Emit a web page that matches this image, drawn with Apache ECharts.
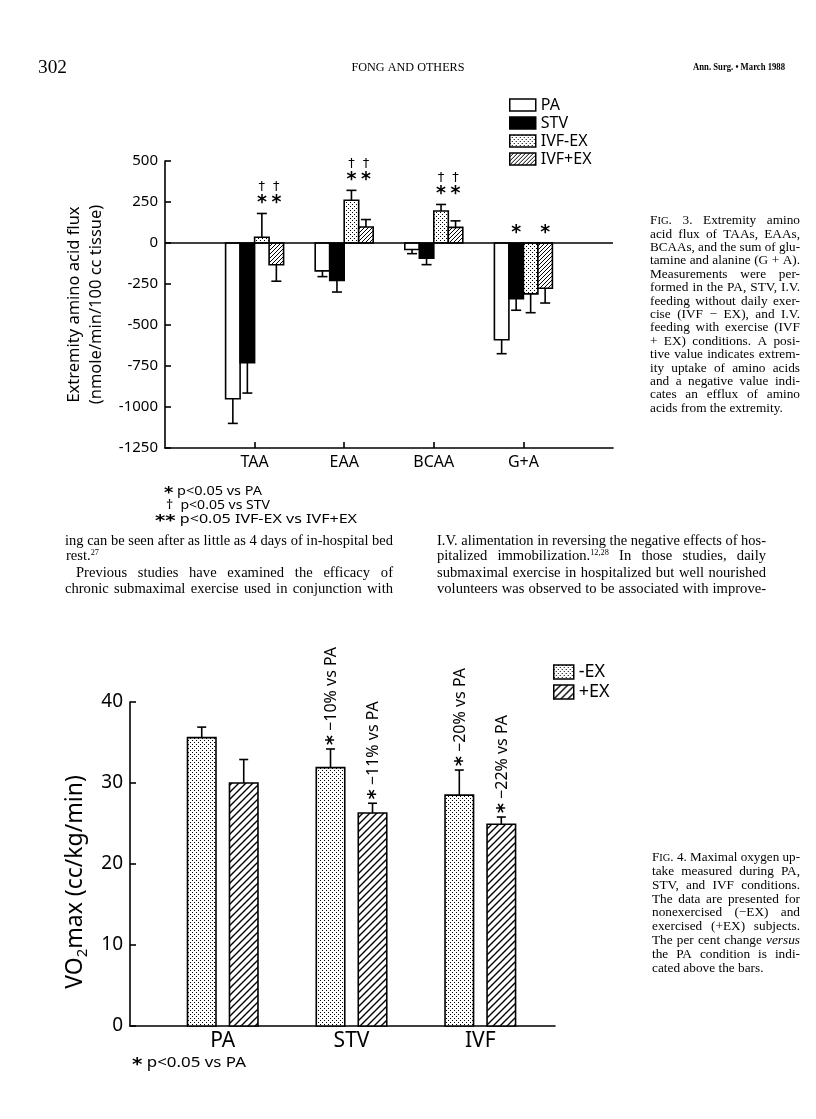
<!DOCTYPE html>
<html><head><meta charset="utf-8">
<script src="https://cdn.jsdelivr.net/npm/echarts@6/dist/echarts.min.js"></script>
<style>html,body{margin:0;padding:0;background:#fff}#c{width:816px;height:1119px}</style>
</head><body><div id="c"></div>
<script>
// ---------------- Fig. 3 data ----------------
const fig3Categories = ['TAA', 'EAA', 'BCAA', 'G+A'];
const fig3SeriesNames = ['PA', 'STV', 'IVF-EX', 'IVF+EX'];
const fig3YTicks = [-1250, -1000, -750, -500, -250, 0, 250, 500];
const fig3PA = [-950, -170, -40, -590];
const fig3PAErr = [150, 35, 25, 85];
const fig3STV = [-730, -229, -92, -340];
const fig3STVErr = [185, 70, 40, 70];
const fig3IVFminusEX = [35, 261, 195, -310];
const fig3IVFminusEXErr = [145, 60, 40, 115];
const fig3IVFplusEX = [-133, 98, 95, -276];
const fig3IVFplusEXErr = [100, 45, 40, 90];
const fig3SigPA = ['', '', '', ''];
const fig3SigSTV = ['', '', '', '*'];
const fig3SigIVFminusEX = ['†*', '†*', '†*', ''];
const fig3SigIVFplusEX = ['†*', '†*', '†*', '*'];

// ---------------- Fig. 4 data ----------------
const fig4Categories = ['PA', 'STV', 'IVF'];
const fig4SeriesNames = ['-EX', '+EX'];
const fig4YTicks = [0, 10, 20, 30, 40];
const fig4MinusEX = [35.6, 31.9, 28.5];
const fig4MinusEXErr = [1.3, 2.3, 3.1];
const fig4PlusEX = [30.0, 26.3, 24.9];
const fig4PlusEXErr = [2.9, 1.2, 0.9];
const fig4ChangeMinusEX = ['', '−10%', '−20%'];
const fig4ChangePlusEX = ['', '−11%', '−22%'];

// ---------------- helpers ----------------
const SERIF = 'Liberation Serif';
const SANS = 'Noto Sans';
function stipple() {
  const c = document.createElement('canvas'); c.width = 4; c.height = 4;
  const g = c.getContext('2d'); g.fillStyle = '#fff'; g.fillRect(0, 0, 4, 4);
  g.fillStyle = '#000'; g.fillRect(0, 0, 1, 1); g.fillRect(2, 2, 1, 1);
  return { image: c, repeat: 'repeat' };
}
function hatch(s, lw) {
  const c = document.createElement('canvas'); c.width = s; c.height = s;
  const g = c.getContext('2d'); g.fillStyle = '#fff'; g.fillRect(0, 0, s, s);
  g.strokeStyle = '#000'; g.lineWidth = lw; g.beginPath();
  g.moveTo(-1, s + 1); g.lineTo(s + 1, -1);
  g.moveTo(-1, 1); g.lineTo(1, -1);
  g.moveTo(s - 1, s + 1); g.lineTo(s + 1, s - 1);
  g.stroke();
  return { image: c, repeat: 'repeat' };
}
const mctx = document.createElement('canvas').getContext('2d');
function fontStr(st) { return (st.fontStyle || 'normal') + ' ' + (st.fontWeight || 'normal') + ' ' + st.fontSize + 'px ' + st.fontFamily; }
function parseRich(text) {
  const out = []; const re = /\{(\w+)\|([^}]*)\}/g; let last = 0, m;
  while ((m = re.exec(text))) { if (m.index > last) out.push({ t: text.slice(last, m.index) }); out.push({ t: m[2], k: m[1] }); last = re.lastIndex; }
  if (last < text.length) out.push({ t: text.slice(last) });
  return out;
}
function buildRich(base, r) {
  const rich = { n: Object.assign({ fill: '#000' }, base) };
  for (const k in (r || {})) rich[k] = Object.assign({ fill: '#000' }, base, r[k]);
  return rich;
}
function measureRich(text, rich) {
  let w = 0, out = '';
  for (const seg of parseRich(text)) {
    const st = seg.k ? rich[seg.k] : rich.n;
    mctx.font = fontStr(st); w += mctx.measureText(seg.t).width;
    out += '{' + (seg.k || 'n') + '|' + seg.t + '}';
  }
  return { w: w, out: out };
}
function T(text, x, y, base, opt) {
  opt = opt || {};
  const rich = buildRich(base, opt.rich);
  const m = measureRich(text, rich);
  const sx = opt.width ? opt.width / m.w : (opt.scale || 1);
  return { type: 'text', x: x, y: y, scaleX: sx, silent: true,
    style: Object.assign({ text: m.out, fill: '#000', align: opt.align || 'left', verticalAlign: 'middle', rich: rich }, base) };
}
function natWidth(text, base, r) {
  const rich = buildRich(base, r);
  return measureRich(text, rich).w;
}
// justified line: condensed glyphs, extra room spread over the word gaps
function J(out, text, x, y, base, width, cond, r) {
  const rich = buildRich(base, r);
  const words = text.split(' ');
  const ms = words.map(function (w) { return measureRich(w, rich); });
  mctx.font = fontStr(base);
  const sp = mctx.measureText(' ').width;
  let nat = 0; ms.forEach(function (m) { nat += m.w; });
  nat += sp * (words.length - 1);
  if (!width) { out.push(T(text, x, y, base, { scale: cond, rich: r })); return; }
  if (nat * cond >= width || words.length < 2) { out.push(T(text, x, y, base, { width: width, rich: r })); return; }
  let wordsW = 0; ms.forEach(function (m) { wordsW += m.w * cond; });
  const gap = (width - wordsW) / (words.length - 1);
  let cx = x;
  ms.forEach(function (m) {
    out.push({ type: 'text', x: cx, y: y, scaleX: cond, silent: true,
      style: Object.assign({ text: m.out, fill: '#000', align: 'left', verticalAlign: 'middle', rich: rich }, base) });
    cx += m.w * cond + gap;
  });
}
// a block of lines: [text, x, y, targetWidth or 0]; glyph condensation = median fit of the justified lines
function block(out, lines, base, r) {
  const ratios = [];
  lines.forEach(function (l) { if (l[3]) ratios.push(l[3] / natWidth(l[0], base, r)); });
  ratios.sort(function (a, b) { return a - b; });
  let cond = ratios.length ? ratios[Math.floor(ratios.length / 2)] : 1;
  cond = Math.min(1.08, Math.max(0.85, cond)) * 0.985;
  lines.forEach(function (l) { J(out, l[0], l[1], l[2], base, l[3], cond, r); });
}

// ---------------- patterns / styles ----------------
const fig3Fills = ['#fff', '#000', stipple(), hatch(4, 1)];
const fig4Fills = [stipple(), hatch(7, 1.4)];
const fig3Vals = [fig3PA, fig3STV, fig3IVFminusEX, fig3IVFplusEX];
const fig3Errs = [fig3PAErr, fig3STVErr, fig3IVFminusEXErr, fig3IVFplusEXErr];
const fig3Sigs = [fig3SigPA, fig3SigSTV, fig3SigIVFminusEX, fig3SigIVFplusEX];
const fig4Vals = [fig4MinusEX, fig4PlusEX];
const fig4Errs = [fig4MinusEXErr, fig4PlusEXErr];
const fig4Changes = [fig4ChangeMinusEX, fig4ChangePlusEX];

const BW3 = 14.5, BW4 = 28.5;

function barRenderer(offset, width, fill, capW, notes, noteFont) {
  return function (params, api) {
    const idx = api.value(0), v = api.value(1), e = api.value(2);
    const base = api.coord([idx, 0]);
    const top = api.coord([idx, v]);
    const ep = api.coord([idx, v + (v >= 0 ? e : -e)]);
    const cx = base[0] + offset;
    const children = [
      { type: 'line', shape: { x1: cx, y1: top[1], x2: cx, y2: ep[1] }, style: { stroke: '#000', lineWidth: 1.6 } },
      { type: 'line', shape: { x1: cx - capW / 2, y1: ep[1], x2: cx + capW / 2, y2: ep[1] }, style: { stroke: '#000', lineWidth: 1.6 } },
      { type: 'rect', shape: { x: cx - width / 2, y: Math.min(base[1], top[1]), width: width, height: Math.abs(base[1] - top[1]) },
        style: { fill: fill, stroke: '#000', lineWidth: 1.6 } }
    ];
    if (notes && notes[params.dataIndex]) {
      children.push({ type: 'text', x: cx + 1, y: ep[1] - 4, rotation: Math.PI / 2,
        style: { text: '{st|*}{n| ' + notes[params.dataIndex] + ' vs PA}', align: 'left', verticalAlign: 'middle', fill: '#000',
          fontFamily: SANS, fontSize: noteFont,
          rich: { n: { fontFamily: SANS, fontSize: noteFont, fill: '#000' },
                  st: { fontFamily: 'DejaVu Sans', fontWeight: 'bold', fontSize: noteFont + 3, fill: '#000', padding: [6, 0, 0, 0] } } } });
    }
    return { type: 'group', children: children };
  };
}

const series = [];
fig3SeriesNames.forEach(function (name, s) {
  const ser = {
    name: name, type: 'custom', xAxisIndex: 0, yAxisIndex: 0,
    itemStyle: { color: fig3Fills[s], borderColor: '#000', borderWidth: 1.5 },
    encode: { x: 0, y: 1 },
    data: fig3Categories.map(function (_, i) { return [i, fig3Vals[s][i], fig3Errs[s][i]]; }),
    renderItem: barRenderer((s - 1.5) * BW3, BW3, fig3Fills[s], 10)
  };
  if (s === 0) ser.markLine = { silent: true, symbol: 'none', label: { show: false }, lineStyle: { color: '#000', width: 1.6, type: 'solid' }, data: [{ yAxis: 0 }] };
  series.push(ser);
});

// significance marks (fig. 3)
const annData = [], annMeta = [];
fig3Categories.forEach(function (_, i) {
  let anchor = 0;
  for (let s = 0; s < 4; s++) { const v = fig3Vals[s][i]; if (v > 0) anchor = Math.max(anchor, v + fig3Errs[s][i]); }
  for (let s = 0; s < 4; s++) {
    if (fig3Sigs[s][i]) { annData.push([i, anchor]); annMeta.push({ off: (s - 1.5) * BW3, t: fig3Sigs[s][i] }); }
  }
});
series.push({
  name: 'sig', type: 'custom', xAxisIndex: 0, yAxisIndex: 0, silent: true, encode: { x: 0, y: 1 }, data: annData,
  renderItem: function (params, api) {
    const p = api.coord([api.value(0), api.value(1)]);
    const m = annMeta[params.dataIndex];
    const cx = p[0] + m.off;
    const ch = [];
    if (m.t.indexOf('*') >= 0) ch.push({ type: 'text', x: cx, y: p[1] - 10, style: { text: '*', align: 'center', verticalAlign: 'middle', fontFamily: 'DejaVu Sans', fontWeight: 'bold', fontSize: 19, fill: '#000' } });
    if (m.t.indexOf('†') >= 0) ch.push({ type: 'text', x: cx, y: p[1] - 27, style: { text: '†', align: 'center', verticalAlign: 'middle', fontFamily: 'DejaVu Sans', fontSize: 13, fill: '#000' } });
    return { type: 'group', children: ch };
  }
});

fig4SeriesNames.forEach(function (name, s) {
  series.push({
    name: name, type: 'custom', xAxisIndex: 1, yAxisIndex: 1,
    itemStyle: { color: fig4Fills[s], borderColor: '#000', borderWidth: 1.5 },
    encode: { x: 0, y: 1 },
    data: fig4Categories.map(function (_, i) { return [i, fig4Vals[s][i], fig4Errs[s][i]]; }),
    renderItem: barRenderer((s - 0.5) * 42, BW4, fig4Fills[s], 9, fig4Changes[s], 16)
  });
});

// ---------------- free text ----------------
const serif = function (size, extra) { return Object.assign({ fontFamily: SERIF, fontSize: size, fontWeight: 'normal', fontStyle: 'normal' }, extra || {}); };
const sans = function (size, extra) { return Object.assign({ fontFamily: SANS, fontSize: size, fontWeight: 'normal', fontStyle: 'normal' }, extra || {}); };
const texts = [];
texts.push(T('302', 38, 68, serif(19), { width: 29 }));
texts.push(T('FONG AND OTHERS', 408, 68, serif(12.5), { width: 113, align: 'center' }));
texts.push(T('Ann. Surg. • March 1988', 693, 67, serif(10, { fontWeight: 'bold' }), { width: 92 }));

const capRich = { sc: { fontSize: 10 }, it: { fontStyle: 'italic' } };
const cap3 = ['F{sc|IG}. 3. Extremity amino', 'acid flux of TAAs, EAAs,', 'BCAAs, and the sum of glu-',
  'tamine and alanine (G + A).', 'Measurements were per-', 'formed in the PA, STV, I.V.',
  'feeding without daily exer-', 'cise (IVF − EX), and I.V.', 'feeding with exercise (IVF',
  '+ EX) conditions. A posi-', 'tive value indicates extrem-', 'ity uptake of amino acids',
  'and a negative value indi-', 'cates an efflux of amino', 'acids from the extremity.'];
block(texts, cap3.map(function (t, i) { return [t, 650, 221 + i * 13.4, i < cap3.length - 1 ? 150 : 0]; }), serif(12.5), capRich);
const cap4 = ['F{sc|IG}. 4. Maximal oxygen up-', 'take measured during PA,', 'STV, and IVF conditions.',
  'The data are presented for', 'nonexercised (−EX) and', 'exercised (+EX) subjects.',
  'The per cent change {it|versus}', 'the PA condition is indi-', 'cated above the bars.'];
block(texts, cap4.map(function (t, i) { return [t, 652, 858 + i * 13.8, i < cap4.length - 1 ? 148 : 0]; }), serif(12.5), capRich);

const supR = { sup: { fontSize: 8.5, verticalAlign: 'top' } };
block(texts, [
  ['ing can be seen after as little as 4 days of in-hospital bed', 65, 541, 328],
  ['rest.{sup|27}', 66, 556, 0],
  ['Previous studies have examined the efficacy of', 76, 573, 317],
  ['chronic submaximal exercise used in conjunction with', 65, 589, 328],
  ['I.V. alimentation in reversing the negative effects of hos-', 437, 541, 329],
  ['pitalized immobilization.{sup|12,28} In those studies, daily', 437, 556, 329],
  ['submaximal exercise in hospitalized but well nourished', 437, 573, 329],
  ['volunteers was observed to be associated with improve-', 437, 589, 329]
], serif(15), supR);

const starR = { st: { fontFamily: 'DejaVu Sans', fontWeight: 'bold', fontSize: 16, padding: [6, 0, 0, 0] } };
texts.push(T('{st|*} p<0.05 vs PA', 164, 491, sans(13), { width: 98, rich: starR }));
texts.push(T('†  p<0.05 vs STV', 166, 505, sans(13), { width: 104 }));
texts.push(T('{st|**} p<0.05 IVF-EX vs IVF+EX', 155, 519, sans(13), { width: 202, rich: starR }));
texts.push(T('{st|*} p<0.05 vs PA', 132, 1063, sans(14.5), { width: 114, rich: { st: { fontFamily: 'DejaVu Sans', fontWeight: 'bold', fontSize: 17, padding: [6, 0, 0, 0] } } }));

// ---------------- axes ----------------
const axisLine = { show: true, onZero: false, lineStyle: { color: '#000', width: 1.6 } };
const tick = { show: true, inside: true, length: 6, lineStyle: { color: '#000', width: 1.6 } };

const option = {
  animation: false,
  backgroundColor: '#fff',
  grid: [
    { left: 165, right: 203, top: 161, bottom: 671, containLabel: false },
    { left: 130, right: 261, top: 702, bottom: 93, containLabel: false }
  ],
  legend: [
    { data: fig3SeriesNames, orient: 'vertical', left: 504, top: 92, icon: 'rect', itemWidth: 26, itemHeight: 12, itemGap: 2,
      selectedMode: false, itemStyle: { borderColor: '#000', borderWidth: 1.5 },
      textStyle: { fontFamily: SANS, fontSize: 16, color: '#000', lineHeight: 16 } },
    { data: fig4SeriesNames, orient: 'vertical', left: 548, top: 658, icon: 'rect', itemWidth: 20, itemHeight: 14, itemGap: 2,
      selectedMode: false, itemStyle: { borderColor: '#000', borderWidth: 1.5 },
      textStyle: { fontFamily: SANS, fontSize: 18, color: '#000', lineHeight: 17 } }
  ],
  xAxis: [
    { gridIndex: 0, type: 'value', min: -1, max: fig3Categories.length, interval: 1,
      axisLine: axisLine, splitLine: { show: false },
      axisTick: Object.assign({}, tick, { customValues: fig3Categories.map(function (_, i) { return i; }) }),
      axisLabel: { customValues: fig3Categories.map(function (_, i) { return i; }), formatter: function (v) { return fig3Categories[v] || ''; },
        fontFamily: SANS, fontSize: 16, color: '#000', margin: 6 } },
    { gridIndex: 1, type: 'value', min: -0.72, max: 2.58,
      axisLine: axisLine, splitLine: { show: false }, axisTick: { show: false },
      axisLabel: { customValues: fig4Categories.map(function (_, i) { return i; }), formatter: function (v) { return fig4Categories[v] || ''; },
        fontFamily: SANS, fontSize: 21, color: '#000', margin: 5 } }
  ],
  yAxis: [
    { gridIndex: 0, type: 'value', min: fig3YTicks[0], max: fig3YTicks[fig3YTicks.length - 1], interval: fig3YTicks[1] - fig3YTicks[0],
      axisLine: axisLine, axisTick: tick, splitLine: { show: false },
      axisLabel: { fontFamily: SANS, fontSize: 15, color: '#000', margin: 7, formatter: function (v) { return String(v); } },
      name: 'Extremity amino acid flux\n(nmole/min/100 cc tissue)', nameLocation: 'middle', nameRotate: 90, nameGap: 58,
      nameTextStyle: { fontFamily: SANS, fontSize: 16.5, color: '#000', lineHeight: 22 } },
    { gridIndex: 1, type: 'value', min: fig4YTicks[0], max: fig4YTicks[fig4YTicks.length - 1], interval: fig4YTicks[1] - fig4YTicks[0],
      axisLine: axisLine, axisTick: tick, splitLine: { show: false },
      axisLabel: { fontFamily: SANS, fontSize: 19, color: '#000', margin: 7, formatter: function (v) { return String(v); } },
      name: 'VO{sub|2}max (cc/kg/min)', nameLocation: 'middle', nameRotate: 90, nameGap: 31,
      nameTextStyle: { fontFamily: SANS, fontSize: 23, color: '#000', lineHeight: 28, padding: [0, 36, 0, 0],
        rich: { sub: { fontFamily: SANS, fontSize: 15, color: '#000', verticalAlign: 'bottom', lineHeight: 30 } } } }
  ],
  graphic: { elements: texts },
  series: series
};
const chart = echarts.init(document.getElementById('c'), null, { renderer: 'canvas' });
chart.setOption(option);
</script>
</body></html>
